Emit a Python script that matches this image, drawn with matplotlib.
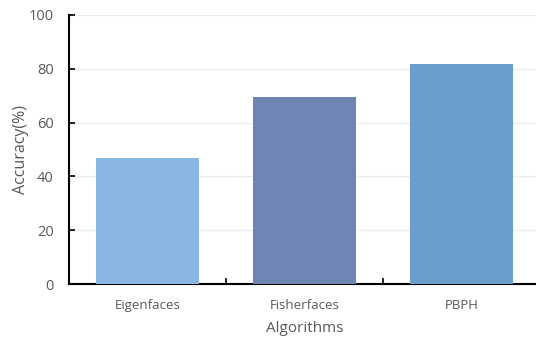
import matplotlib.pyplot as plt

# data
algorithms = ["Eigenfaces", "Fisherfaces", "PBPH"]
accuracy = [46.7, 69.4, 81.9]
colors = ["#8ab7e1", "#6e85b4", "#6b9ecd"]

plt.rcParams['font.family'] = ['Open Sans', 'DejaVu Sans']

fig = plt.figure(figsize=(5.36, 3.41), dpi=100)
ax = fig.add_axes([69 / 536, 57 / 341, 471 / 536, 269 / 341])

x = range(len(algorithms))
ax.bar(x, accuracy, width=0.66, color=colors, zorder=3)

ax.set_xlim(-0.5, 2.5)
ax.set_ylim(0, 100)
ax.set_yticks([0, 20, 40, 60, 80, 100])
ax.grid(axis='y', color='#ececec', linewidth=1, zorder=0)

# category labels in the middle, ticks on the boundaries
ax.set_xticks([0.5, 1.5])
ax.set_xticklabels([])
ax.set_xticks(list(x), minor=True)
ax.set_xticklabels(algorithms, minor=True)
ax.tick_params(axis='x', which='major', direction='in', length=4, width=1.2)
ax.tick_params(axis='x', which='minor', length=0, pad=11, labelsize=9.5, labelcolor='#595959')
ax.tick_params(axis='y', direction='in', length=4, width=1.2, pad=11,
               labelsize=10.5, labelcolor='#595959')

for s in ['top', 'right']:
    ax.spines[s].set_visible(False)
ax.spines['left'].set_linewidth(1.5)
ax.spines['bottom'].set_linewidth(1.5)

ax.set_xlabel('Algorithms', fontsize=11, color='#595959', labelpad=6)
ax.set_ylabel('Accuracy(%)', fontsize=11.5, color='#595959', labelpad=0)

fig.savefig('out.png', dpi=100)
